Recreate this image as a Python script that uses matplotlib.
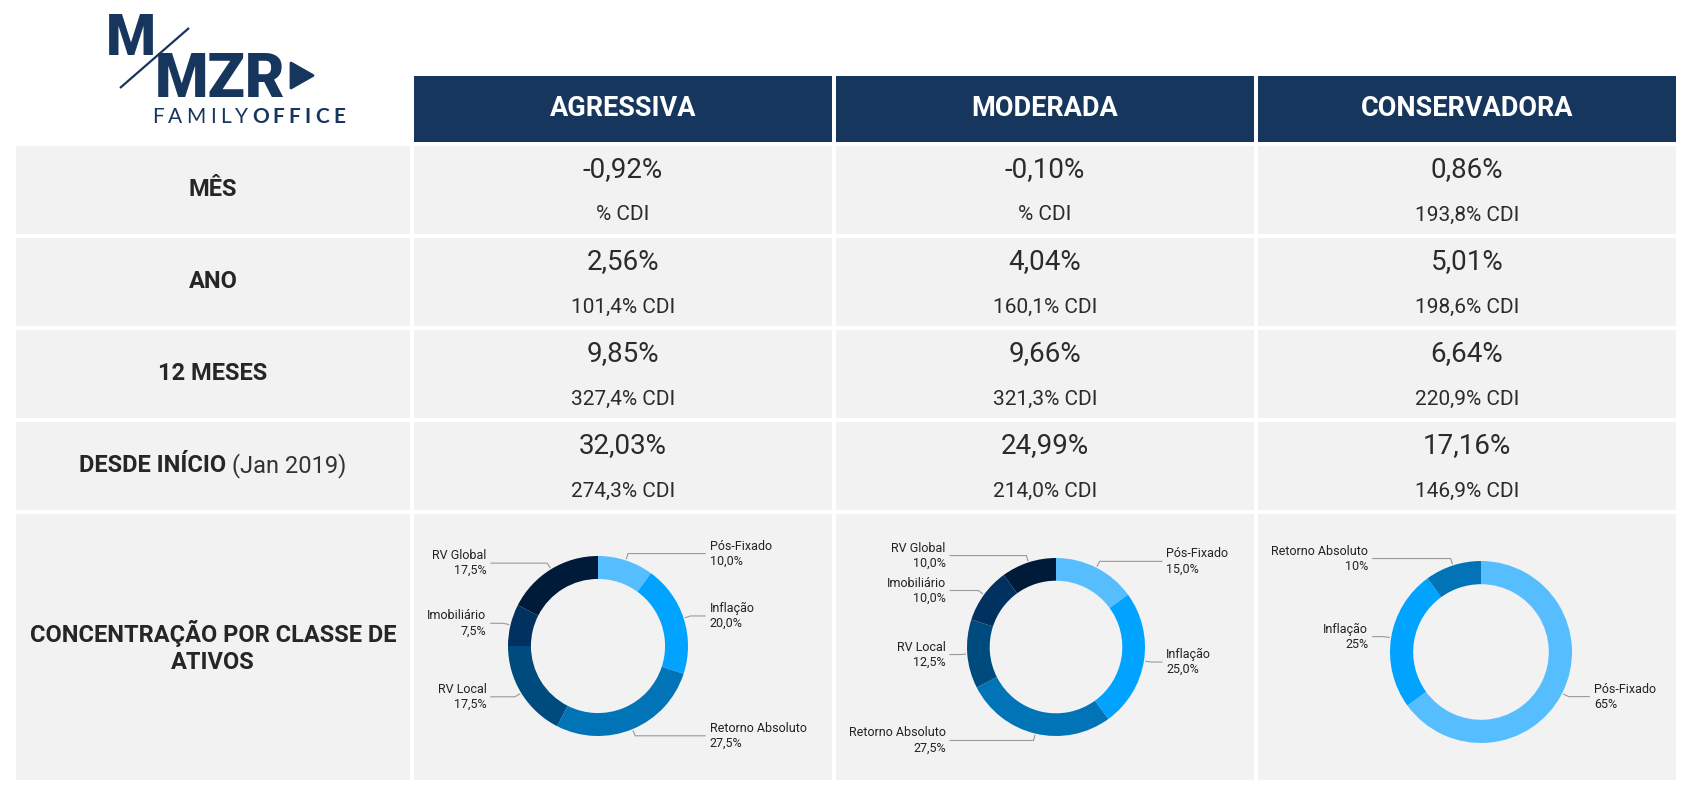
import numpy as np
import matplotlib.pyplot as plt
from matplotlib.patches import Rectangle, Polygon

plt.rcParams['font.family'] = ['Roboto', 'DejaVu Sans']

# DADOS

perfis = ["AGRESSIVA", "MODERADA", "CONSERVADORA"]
periodos = ["MÊS", "ANO", "12 MESES", "DESDE INÍCIO"]

ret_agressiva = ["-0,92%", "2,56%", "9,85%", "32,03%"]
cdi_agressiva = ["% CDI", "101,4% CDI", "327,4% CDI", "274,3% CDI"]
ret_moderada = ["-0,10%", "4,04%", "9,66%", "24,99%"]
cdi_moderada = ["% CDI", "160,1% CDI", "321,3% CDI", "214,0% CDI"]
ret_conservadora = ["0,86%", "5,01%", "6,64%", "17,16%"]
cdi_conservadora = ["193,8% CDI", "198,6% CDI", "220,9% CDI", "146,9% CDI"]

classes_agressiva = ["Pós-Fixado", "Inflação", "Retorno Absoluto", "RV Local", "Imobiliário", "RV Global"]
pesos_agressiva = [10.0, 20.0, 27.5, 17.5, 7.5, 17.5]
classes_moderada = ["Pós-Fixado", "Inflação", "Retorno Absoluto", "RV Local", "Imobiliário", "RV Global"]
pesos_moderada = [15.0, 25.0, 27.5, 12.5, 10.0, 10.0]
classes_conservadora = ["Pós-Fixado", "Inflação", "Retorno Absoluto"]
pesos_conservadora = [65, 25, 10]

cores_classe = {
    "Pós-Fixado": "#56BEFF",
    "Inflação": "#00A3FF",
    "Retorno Absoluto": "#0174B8",
    "RV Local": "#004B7D",
    "Imobiliário": "#01325F",
    "RV Global": "#001A3A",
}

# LAYOUT (pixels)

W, H = 1694, 796
AZUL = "#17365D"
CINZA = "#F2F2F2"
TEXTO = "#262626"

x_label = (16, 410)
x_cols = [(414, 832), (836, 1254), (1258, 1676)]
y_header = (76, 142)
y_rows = [(146, 234), (238, 326), (330, 418), (422, 510)]
y_conc = (514, 780)

fig = plt.figure(figsize=(W / 100, H / 100), dpi=100)
ax = fig.add_axes([0, 0, 1, 1])
ax.set_xlim(0, W)
ax.set_ylim(H, 0)
ax.axis('off')
renderer = fig.canvas.get_renderer()


def caixa(x0, x1, y0, y1, cor):
    ax.add_patch(Rectangle((x0, y0), x1 - x0, y1 - y0, facecolor=cor, edgecolor='none'))


def largura(t):
    return t.get_window_extent(renderer=renderer).width


# Cabecalho
for (x0, x1), perfil in zip(x_cols, perfis):
    caixa(x0, x1, *y_header, AZUL)
    ax.text((x0 + x1) / 2, sum(y_header) / 2, perfil, color='white', fontsize=19.5,
            fontweight='bold', ha='center', va='center')

# Linhas de rentabilidade
colunas_ret = [ret_agressiva, ret_moderada, ret_conservadora]
colunas_cdi = [cdi_agressiva, cdi_moderada, cdi_conservadora]
xc_label = sum(x_label) / 2

for i, (y0, y1) in enumerate(y_rows):
    caixa(*x_label, y0, y1, CINZA)
    yc = (y0 + y1) / 2
    if periodos[i] == "DESDE INÍCIO":
        t1 = ax.text(0, yc, periodos[i] + " ", fontsize=17, fontweight='bold', color=TEXTO,
                     ha='left', va='center')
        t2 = ax.text(0, yc, "(Jan 2019)", fontsize=17, color="#333333", ha='left', va='center')
        w1, w2 = largura(t1), largura(t2)
        x_ini = xc_label - (w1 + w2) / 2
        t1.set_x(x_ini)
        t2.set_x(x_ini + w1)
    else:
        ax.text(xc_label, yc, periodos[i], fontsize=17, fontweight='bold', color=TEXTO,
                ha='center', va='center')
    for (x0, x1), ret, cdi in zip(x_cols, colunas_ret, colunas_cdi):
        caixa(x0, x1, y0, y1, CINZA)
        ax.text((x0 + x1) / 2, y0 + 24, ret[i], fontsize=20, color="#2B2B2B",
                ha='center', va='center')
        ax.text((x0 + x1) / 2, y0 + 69, cdi[i], fontsize=15, color="#2B2B2B",
                ha='center', va='center')

# Linha de concentracao
caixa(*x_label, *y_conc, CINZA)
ax.text(xc_label, 647, "CONCENTRAÇÃO POR CLASSE DE\nATIVOS", fontsize=17,
        fontweight='bold', color=TEXTO, ha='center', va='center',
        multialignment='center', linespacing=1.2)
for x0, x1 in x_cols:
    caixa(x0, x1, *y_conc, CINZA)

# Logo
ax.text(106, 55, "M", fontsize=41, fontweight='heavy', color=AZUL, ha='left', va='baseline')
ax.text(155, 97, "MZR", fontsize=44, fontweight='heavy', color=AZUL, ha='left', va='baseline')
ax.plot([122, 187], [86, 30], color='white', lw=5, solid_capstyle='butt')
ax.plot([120, 189], [88, 28], color=AZUL, lw=1.6, solid_capstyle='butt')
ax.add_patch(Polygon([(291, 63), (291, 88), (313, 75.5)], closed=True, facecolor=AZUL,
                     edgecolor=AZUL, lw=2, joinstyle='round'))
logo_txt = "FAMILYOFFICE"
letras = []
for k, ch in enumerate(logo_txt):
    letras.append(ax.text(0, 123, ch, fontsize=15, color=AZUL,
                          fontweight='bold' if k >= 6 else 'normal',
                          family=['Lato', 'DejaVu Sans'], ha='left', va='baseline'))
larguras = [largura(t) for t in letras]
espaco = (193 - sum(larguras)) / (len(letras) - 1)
x_atual = 152
for t, wl in zip(letras, larguras):
    t.set_x(x_atual)
    x_atual += wl + espaco


# Rosquinhas
def rosquinha(cx, cy, R, classes, pesos, fmt):
    L, A = 1.75, 1.45
    pa = fig.add_axes([(cx - L * R) / W, 1 - (cy + A * R) / H, 2 * L * R / W, 2 * A * R / H])
    cores = [cores_classe[c] for c in classes]
    wedges, _ = pa.pie(pesos, colors=cores, startangle=90, counterclock=False, radius=1,
                       wedgeprops=dict(width=0.255, edgecolor='none'))
    pa.set_xlim(-L, L)
    pa.set_ylim(-A, A)
    pa.set_aspect('auto')
    pa.axis('off')
    for w, nome, p in zip(wedges, classes, pesos):
        ang = np.radians((w.theta1 + w.theta2) / 2)
        dx, dy = np.cos(ang), np.sin(ang)
        lado = 1 if dx >= 0 else -1
        x_ini, y_ini = 1.02 * dx, 1.02 * dy
        x_cot, y_cot = 1.08 * dx, 1.08 * dy
        x_fim = lado * 1.19
        pa.plot([x_ini, x_cot, x_fim], [y_ini, y_cot, y_cot], color='#9A9A9A', lw=0.8,
                clip_on=False)
        pa.text(lado * 1.24, y_cot, f"{nome}\n{fmt(p)}", fontsize=9, color='#222222',
                ha='left' if lado > 0 else 'right', va='center',
                multialignment='left' if lado > 0 else 'right', linespacing=1.2,
                clip_on=False)


def um_decimal(v):
    return f"{v:.1f}%".replace('.', ',')


def inteiro(v):
    return f"{v:.0f}%"


rosquinha(598, 646, 90, classes_agressiva, pesos_agressiva, um_decimal)
rosquinha(1056, 647, 89, classes_moderada, pesos_moderada, um_decimal)
rosquinha(1481, 652, 91, classes_conservadora, pesos_conservadora, inteiro)

fig.savefig("out.png", dpi=100, facecolor='white')
